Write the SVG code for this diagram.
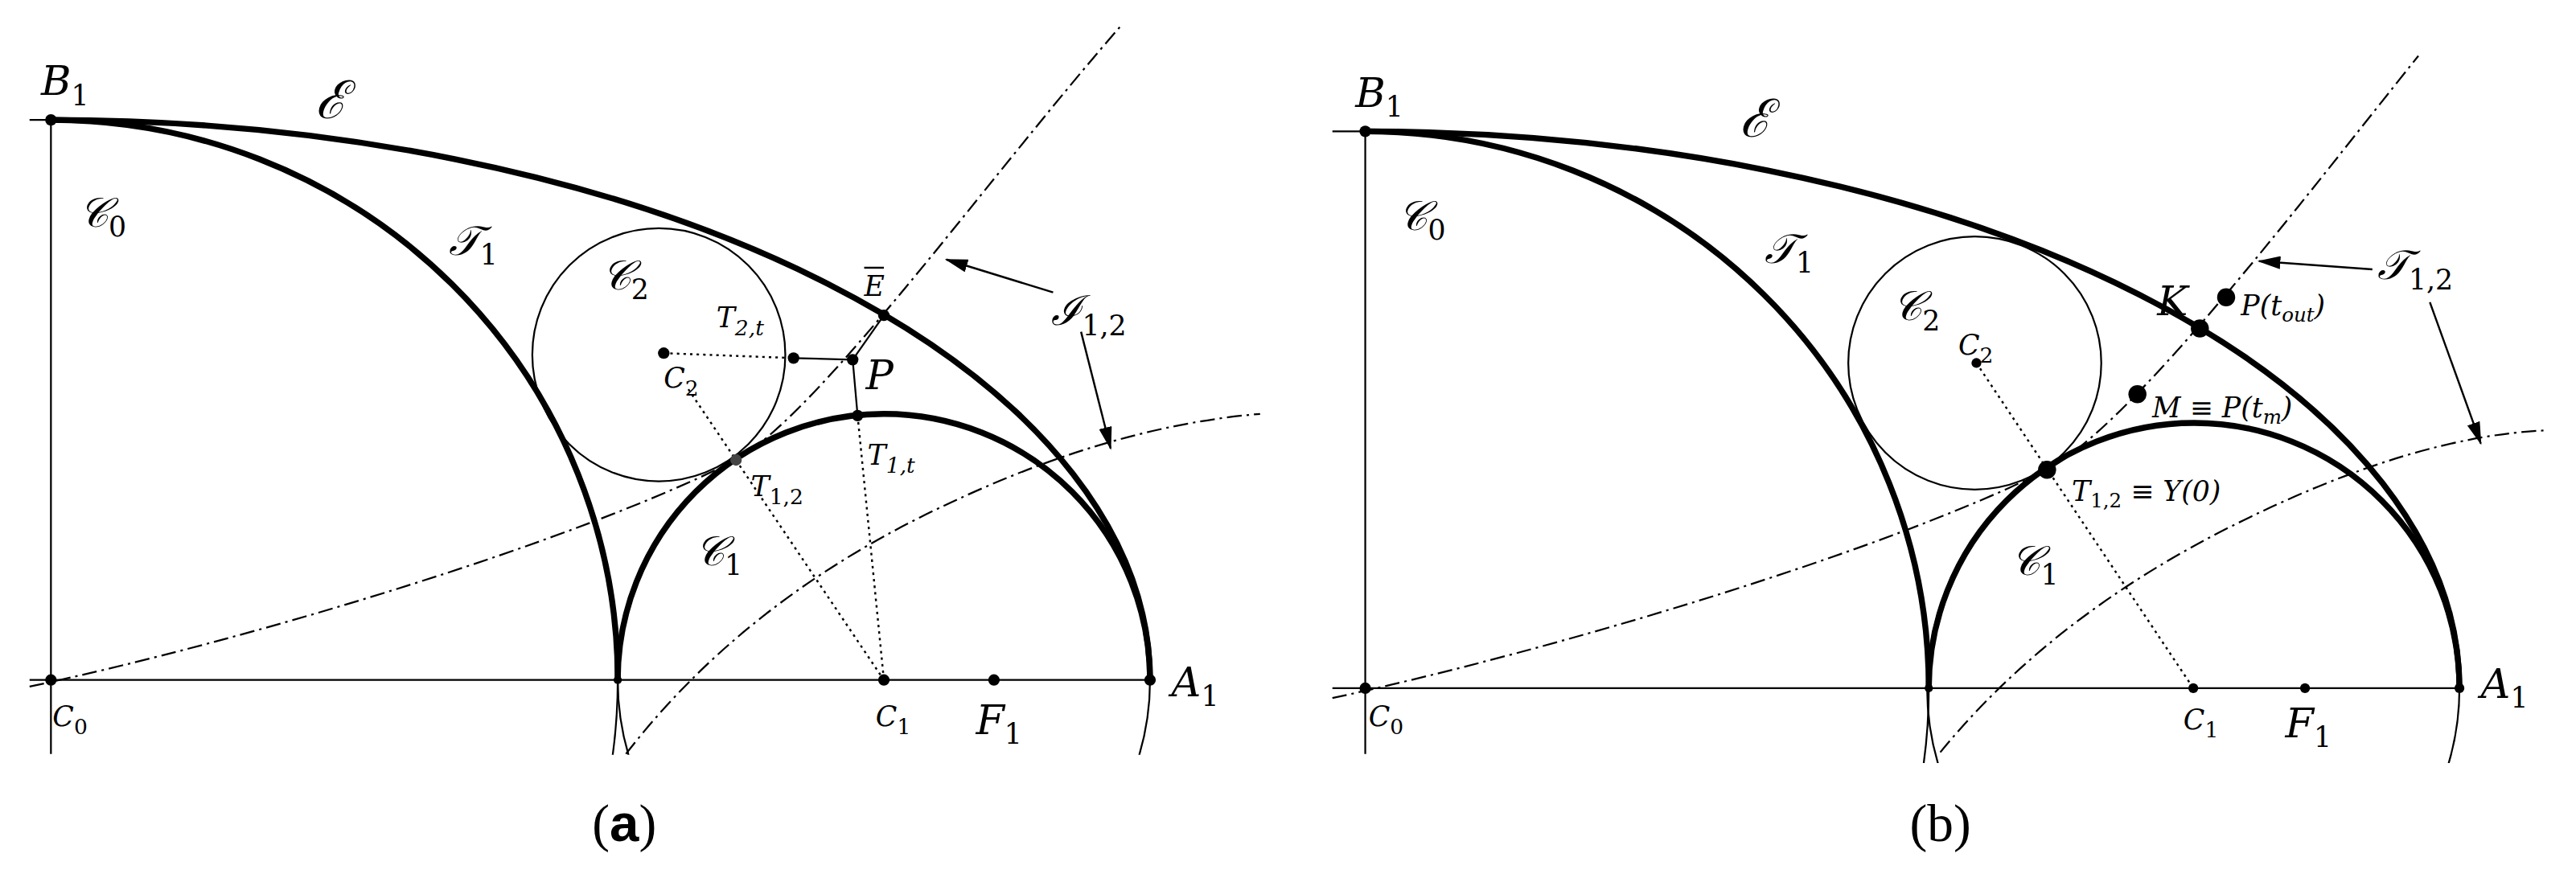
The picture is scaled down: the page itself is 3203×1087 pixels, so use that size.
<svg xmlns="http://www.w3.org/2000/svg" width="3203" height="1087" viewBox="0 0 3203 1087">
<style>
.thk{fill:none;stroke:#000;stroke-width:3.6}
.thn{fill:none;stroke:#000;stroke-width:1.1}
.dd{fill:none;stroke:#000;stroke-width:1.1;stroke-dasharray:9 3 1.5 3}
.dot{fill:none;stroke:#000;stroke-width:1.2;stroke-dasharray:1.5 2.5}
.ar{fill:none;stroke:#000;stroke-width:1.2;marker-end:url(#ah)}
text{font-family:"DejaVu Serif","Liberation Serif",serif;font-style:italic;fill:#000}
.L{font-size:25px}.S{font-size:17px}.E{font-size:32px}
.cap{font-family:"Liberation Serif","DejaVu Serif",serif;font-style:normal;font-size:32px}
</style>
<defs>
<marker id="ah" markerWidth="14" markerHeight="8" refX="13" refY="4" orient="auto" markerUnits="userSpaceOnUse"><path d="M0,0 L14,4 L0,8 Z" fill="#000"/></marker>
<clipPath id="cl"><rect x="31" y="0" width="770" height="459.5"/></clipPath>
</defs>
<rect width="3203" height="1087" fill="#fff"/>
<g transform="scale(2.0428)">
<g id="panel-a">
<g id="axes-a">
<line class="thn" x1="31" y1="73" x2="31" y2="459"/>
<line class="thn" x1="18" y1="414" x2="700" y2="414"/>
<line class="thn" x1="18" y1="73" x2="31" y2="73"/>
</g>
<g id="curves-a" clip-path="url(#cl)">
<ellipse class="thn" cx="31" cy="414" rx="345" ry="341"/>
<circle class="thn" cx="538" cy="414" r="162"/>
<circle id="C2circle-a" class="thn" cx="401" cy="216" r="77"/>
<path class="thk" d="M31,73 A669,341 0 0 1 700,414"/>
<path class="thk" d="M31,73 A345,341 0 0 1 376,414"/>
<path class="thk" d="M376,414 A162,162 0 0 1 700,414"/>
</g>
<g id="connectors-a">
<path class="dd" d="M18,418 C150,390 350,330 448,280 C500,250 600,110 682,16"/>
<path class="dd" d="M381,459 Q450,370 560,315 T767,252"/>
<line class="dot" x1="404" y1="215" x2="483" y2="218"/>
<line class="dot" x1="419" y1="237" x2="538" y2="414"/>
<line class="dot" x1="522" y1="253" x2="538" y2="414"/>
<line class="thn" x1="483" y1="218" x2="519" y2="219"/>
<line class="thn" x1="519" y1="219" x2="522" y2="253"/>
<line class="thn" x1="519" y1="219" x2="538" y2="192"/>
<line class="ar" x1="641" y1="178" x2="576" y2="158"/>
<line class="ar" x1="658" y1="202" x2="676" y2="273"/>
</g>
<g id="points-a" fill="#000">
<circle cx="31" cy="73" r="3.5"/><circle cx="31" cy="414" r="3.5"/>
<circle cx="376" cy="414" r="2.5"/><circle cx="538" cy="414" r="3.5"/>
<circle cx="605" cy="414" r="3.5"/><circle cx="700" cy="414" r="3.5"/>
<circle cx="404" cy="215" r="3.5"/><circle cx="483" cy="218" r="3.5"/>
<circle cx="519" cy="219" r="3.5"/><circle cx="522" cy="253" r="3.5"/>
<circle cx="538" cy="192" r="3.5"/><circle cx="448" cy="280" r="3.5" fill="#444"/>
</g>
<g id="labels-a">
<text class="L" x="25" y="58">B<tspan class="S" dy="6" font-style="normal">1</tspan></text>
<text class="E" x="192" y="72">ℰ</text>
<text class="L" x="48" y="138">𝒞<tspan class="S" dy="6" font-style="normal">0</tspan></text>
<text class="L" x="273" y="155">𝒯<tspan class="S" dy="6" font-style="normal">1</tspan></text>
<text class="L" x="366" y="176">𝒞<tspan class="S" dy="6" font-style="normal">2</tspan></text>
<text class="S" x="436" y="199">T<tspan font-size="13" dy="5">2,t</tspan></text>
<text class="S" x="404" y="236">C<tspan font-size="13" dy="5" font-style="normal">2</tspan></text>
<text class="L" x="527" y="237">P</text>
<text class="S" x="526" y="180">E</text><line x1="526" y1="163" x2="538" y2="163" stroke="#000" stroke-width="1.2"/>
<text class="S" x="528" y="283">T<tspan font-size="13" dy="5">1,t</tspan></text>
<text class="S" x="457" y="302">T<tspan font-size="13" dy="5" font-style="normal">1,2</tspan></text>
<text class="L" x="423" y="344">𝒞<tspan class="S" dy="6" font-style="normal">1</tspan></text>
<text class="S" x="32" y="442">C<tspan font-size="13" dy="5" font-style="normal">0</tspan></text>
<text class="S" x="533" y="442">C<tspan font-size="13" dy="5" font-style="normal">1</tspan></text>
<text class="L" x="594" y="447">F<tspan class="S" dy="6" font-style="normal">1</tspan></text>
<text class="L" x="713" y="424">A<tspan class="S" dy="6" font-style="normal">1</tspan></text>
<text class="L" x="640" y="198">ℐ<tspan class="S" dy="6" font-style="normal">1,2</tspan></text>
<text class="cap" x="380" y="512" text-anchor="middle">(<tspan font-weight="bold" font-family="Liberation Sans,sans-serif">a</tspan>)</text>
</g>
</g>
<g id="panel-b" transform="translate(799,5)">
<g id="axes-b">
<line class="thn" x1="32" y1="75" x2="32" y2="454"/>
<line class="thn" x1="12" y1="414" x2="698" y2="414"/>
<line class="thn" x1="12" y1="75" x2="32" y2="75"/>
</g>
<g id="curves-b" clip-path="url(#cl)">
<ellipse class="thn" cx="32" cy="414" rx="343" ry="339"/>
<circle class="thn" cx="536" cy="414" r="162"/>
<circle id="C2circle-b" class="thn" cx="403" cy="216" r="77"/>
<path class="thk" d="M32,75 A666,339 0 0 1 698,414"/>
<path class="thk" d="M32,75 A343,339 0 0 1 375,414"/>
<path class="thk" d="M375,414 A161.5,161.5 0 0 1 698,414"/>
</g>
<g id="connectors-b">
<path class="dd" d="M12,420 C150,390 350,330 447,281 C500,252 600,120 673,29"/>
<path class="dd" d="M382,453 Q450,370 560,315 T752,257"/>
<line class="dot" x1="404" y1="216" x2="536" y2="414"/>
<line class="ar" x1="645" y1="159" x2="576" y2="154"/>
<line class="ar" x1="680" y1="179" x2="711" y2="265"/>
</g>
<g id="points-b" fill="#000">
<circle cx="32" cy="75" r="3.5"/><circle cx="32" cy="414" r="3.5"/>
<circle cx="375" cy="414" r="2.5"/><circle cx="536" cy="414" r="3"/>
<circle cx="604" cy="414" r="3"/><circle cx="698" cy="414" r="3"/>
<circle cx="404" cy="216" r="3"/>
<circle cx="540" cy="195" r="5.5"/><circle cx="556" cy="176" r="5.5"/>
<circle cx="502" cy="235" r="5.5"/><circle cx="447" cy="281" r="5.5"/>
</g>
<g id="labels-b">
<text class="L" x="26" y="60">B<tspan class="S" dy="6" font-style="normal">1</tspan></text>
<text class="E" x="260" y="78">ℰ</text>
<text class="L" x="52" y="135">𝒞<tspan class="S" dy="6" font-style="normal">0</tspan></text>
<text class="L" x="275" y="155">𝒯<tspan class="S" dy="6" font-style="normal">1</tspan></text>
<text class="L" x="353" y="190">𝒞<tspan class="S" dy="6" font-style="normal">2</tspan></text>
<text class="S" x="393" y="211">C<tspan font-size="13" dy="5" font-style="normal">2</tspan></text>
<text class="L" x="514" y="187">K</text>
<text class="S" x="565" y="187">P(t<tspan font-size="12" dy="4">out</tspan><tspan dy="-4">)</tspan></text>
<text class="S" x="511" y="249">M ≡ P(t<tspan font-size="12" dy="4">m</tspan><tspan dy="-4">)</tspan></text>
<text class="S" x="462" y="300">T<tspan font-size="12" dy="4" font-style="normal">1,2</tspan><tspan dy="-4"> ≡ Y(0)</tspan></text>
<text class="L" x="425" y="345">𝒞<tspan class="S" dy="6" font-style="normal">1</tspan></text>
<text class="S" x="34" y="437">C<tspan font-size="13" dy="5" font-style="normal">0</tspan></text>
<text class="S" x="530" y="439">C<tspan font-size="13" dy="5" font-style="normal">1</tspan></text>
<text class="L" x="592" y="444">F<tspan class="S" dy="6" font-style="normal">1</tspan></text>
<text class="L" x="711" y="420">A<tspan class="S" dy="6" font-style="normal">1</tspan></text>
<text class="L" x="648" y="165">𝒯<tspan class="S" dy="6" font-style="normal">1,2</tspan></text>
<text class="cap" x="382" y="507" text-anchor="middle">(b)</text>
</g>
</g>
</g>
</svg>
